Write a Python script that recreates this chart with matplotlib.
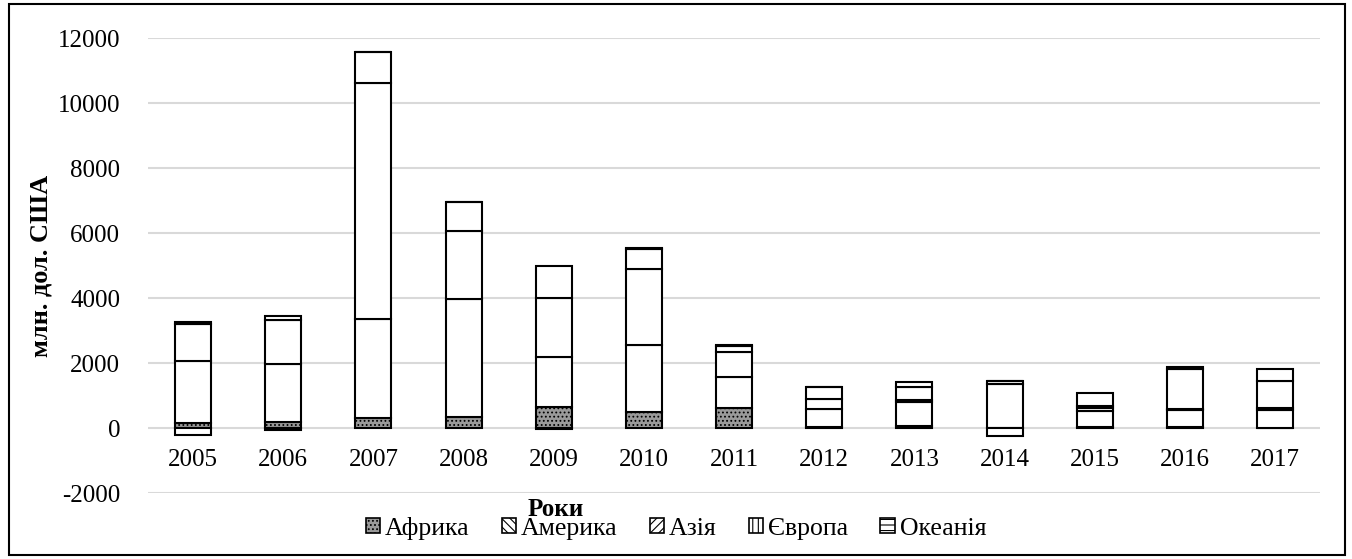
import numpy as np
import matplotlib.pyplot as plt
from matplotlib.patches import Patch, Rectangle

# Data (млн. дол. США)
years = ["2005", "2006", "2007", "2008", "2009", "2010", "2011",
         "2012", "2013", "2014", "2015", "2016", "2017"]
africa = [150, 180, 320, 340, 640, 500, 610, 40, 70, 10, 20, 20, 10]
america = [1910, 1800, 3030, 3640, 1535, 2065, 945, 545, 730, 1335, 510, 540, 560]
asia = [1150, 1330, 7270, 2080, 1835, 2325, 780, 305, 70, 110, 95, 40, 50]
europe = [-200, -70, 940, 890, 985, 610, 190, 360, 400, -235, 60, 1230, 825]
oceania = [60, 130, 20, 10, -40, 50, 30, 10, 145, 0, 400, 55, 360]

series_names = ["Африка", "Америка", "Азія", "Європа", "Океанія"]
series = [africa, america, asia, europe, oceania]

plt.rcParams["font.family"] = ["Liberation Serif", "DejaVu Serif"]
plt.rcParams["axes.unicode_minus"] = False
plt.rcParams["hatch.linewidth"] = 0.8

fig = plt.figure(figsize=(13.52, 5.59), dpi=100)
ax = fig.add_axes([0.1095, 0.118, 0.8669, 0.814])

x = np.arange(len(years))
pos_base = np.zeros(len(years))
neg_base = np.zeros(len(years))

for name, vals in zip(series_names, series):
    vals = np.array(vals, dtype=float)
    bottom = np.where(vals >= 0, pos_base, neg_base)
    if name == "Африка":
        ax.bar(x, vals, 0.4, bottom=bottom, facecolor="#9a9a9a",
               edgecolor="black", linewidth=1.5, hatch="....", zorder=3)
    else:
        ax.bar(x, vals, 0.4, bottom=bottom, facecolor="white",
               edgecolor="black", linewidth=1.5, zorder=3)
    pos_base += np.where(vals >= 0, vals, 0)
    neg_base += np.where(vals < 0, vals, 0)

ax.set_xlim(-0.5, len(years) - 0.5)
ax.set_ylim(-2000, 12000)
ax.set_yticks(range(-2000, 12001, 2000))
ax.yaxis.grid(True, color="#d9d9d9", linewidth=1.5, zorder=0)
ax.set_axisbelow(True)

for side in ["top", "right", "left"]:
    ax.spines[side].set_visible(False)
ax.spines["bottom"].set_position(("data", 0))
ax.spines["bottom"].set_visible(False)

ax.set_xticks(x)
ax.set_xticklabels(years)
ax.tick_params(axis="x", length=0, pad=15, labelsize=18)
ax.tick_params(axis="y", length=0, pad=20, labelsize=18)

ax.set_ylabel("млн. дол. США", fontsize=19, fontweight="bold", labelpad=4)
fig.text(0.411, 0.088, "Роки", fontsize=18, fontweight="bold",
         ha="center", va="center")

# legend with patterned squares
hatches = ["....", "\\\\\\\\", "////", "|||", "---"]
faces = ["#9a9a9a", "white", "white", "white", "white"]
handles = [Patch(facecolor=f, edgecolor="black", hatch=h, linewidth=1.2)
           for f, h in zip(faces, hatches)]
fig.legend(handles, series_names, loc="center", bbox_to_anchor=(0.5, 0.055),
           ncol=5, frameon=False, fontsize=18.5, handlelength=0.55,
           handleheight=0.55, handletextpad=0.2, columnspacing=1.25)

# outer frame
fig.patches.append(Rectangle((9 / 1352, 4 / 559), 1336 / 1352, 551 / 559,
                             transform=fig.transFigure, fill=False,
                             edgecolor="black", linewidth=1.5))

fig.savefig("out.png", dpi=100)
